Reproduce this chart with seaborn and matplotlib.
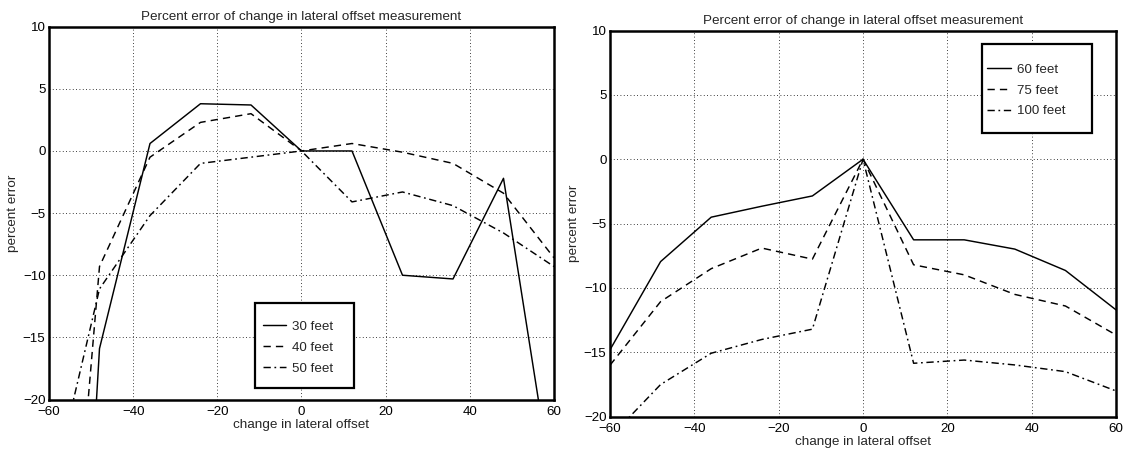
import matplotlib
matplotlib.use("Agg")
import matplotlib.pyplot as plt
from matplotlib.patches import Rectangle
import seaborn as sns
import pandas as pd

# lateral offset change (feet) at which the error was evaluated
offsets = [-60, -48, -36, -24, -12, 0, 12, 24, 36, 48, 60]

# percent error, shorter camera distances
err_30ft = [-85.0, -15.9, 0.6, 3.8, 3.7, 0.0, 0.0, -10.0, -10.3, -2.2, -28.0]
err_40ft = [-57.0, -9.3, -0.5, 2.3, 3.0, 0.0, 0.6, -0.1, -1.0, -3.4, -8.6]
err_50ft = [-28.4, -11.1, -5.2, -1.0, -0.5, 0.0, -4.1, -3.3, -4.4, -6.6, -9.3]

# percent error, longer camera distances
err_60ft = [-14.8, -7.95, -4.5, -3.65, -2.85, 0.0, -6.26, -6.26, -6.98, -8.64, -11.7]
err_75ft = [-16.0, -11.06, -8.5, -6.9, -7.76, 0.0, -8.2, -8.98, -10.5, -11.4, -13.65]
err_100ft = [-21.6, -17.5, -15.07, -14.0, -13.2, 0.0, -15.85, -15.6, -15.98, -16.5, -18.0]

labels_left = ["30 feet", "40 feet", "50 feet"]
labels_right = ["60 feet", "75 feet", "100 feet"]

title_text = "Percent error of change in lateral offset measurement"
xlabel_text = "change in lateral offset"
ylabel_text = "percent error"

sns.set_style("white")
plt.rcParams["font.family"] = ["Liberation Sans", "DejaVu Sans"]
plt.rcParams["axes.unicode_minus"] = True


def build_frame(series, names):
    rows = []
    for vals, name in zip(series, names):
        for x, y in zip(offsets, vals):
            rows.append({"offset": x, "error": y, "distance": name})
    return pd.DataFrame(rows)


dash_styles = ["", (5, 3.5), (5, 2.5, 1.2, 2.5)]

fig = plt.figure(figsize=(11.29, 4.57), dpi=100)
ax_l = fig.add_axes([0.0434, 0.1258, 0.4473, 0.8158])
ax_r = fig.add_axes([0.5403, 0.0882, 0.4482, 0.8450])


def draw_panel(ax, series, names, frame_box, entry_anchor):
    df = build_frame(series, names)
    sns.lineplot(data=df, x="offset", y="error", style="distance",
                 style_order=names, dashes=dict(zip(names, dash_styles)),
                 color="black", linewidth=1.05, legend=False, ax=ax,
                 estimator=None, sort=False)
    ax.set_xlim(-60, 60)
    ax.set_ylim(-20, 10)
    ax.set_xticks(range(-60, 61, 20))
    ax.set_yticks(range(-20, 11, 5))
    ax.grid(True, color="black", linestyle=(0, (1, 3)), linewidth=0.6)
    for sp in ax.spines.values():
        sp.set_visible(True)
        sp.set_color("black")
        sp.set_linewidth(1.8)
    ax.tick_params(direction="in", length=3, width=0.8, labelsize=9.6,
                   colors="black")
    ax.tick_params(axis="x", pad=4.5)
    ax.tick_params(axis="y", pad=2.5)
    ax.set_title(title_text, fontsize=9.7, pad=5)
    ax.set_xlabel(xlabel_text, fontsize=9.7, labelpad=1)
    ax.set_ylabel(ylabel_text, fontsize=9.7, labelpad=3)
    # opaque legend frame
    ax.add_patch(Rectangle(frame_box[:2], frame_box[2], frame_box[3],
                           transform=ax.transAxes, facecolor="white",
                           edgecolor="black", linewidth=1.6, zorder=4.5))
    leg = ax.legend(ax.lines[:3], names, loc="upper left",
                    bbox_to_anchor=entry_anchor, borderaxespad=0,
                    borderpad=0, frameon=False, fontsize=9.6,
                    handlelength=1.75, handletextpad=0.45,
                    labelspacing=0.64)
    leg.set_zorder(5)


draw_panel(ax_l, [err_30ft, err_40ft, err_50ft], labels_left,
           (0.408, 0.030, 0.196, 0.229), (0.4228, 0.2114))
draw_panel(ax_r, [err_60ft, err_75ft, err_100ft], labels_right,
           (0.7344, 0.7338, 0.2174, 0.2305), (0.7458, 0.915))

fig.savefig("out.png", dpi=100)
